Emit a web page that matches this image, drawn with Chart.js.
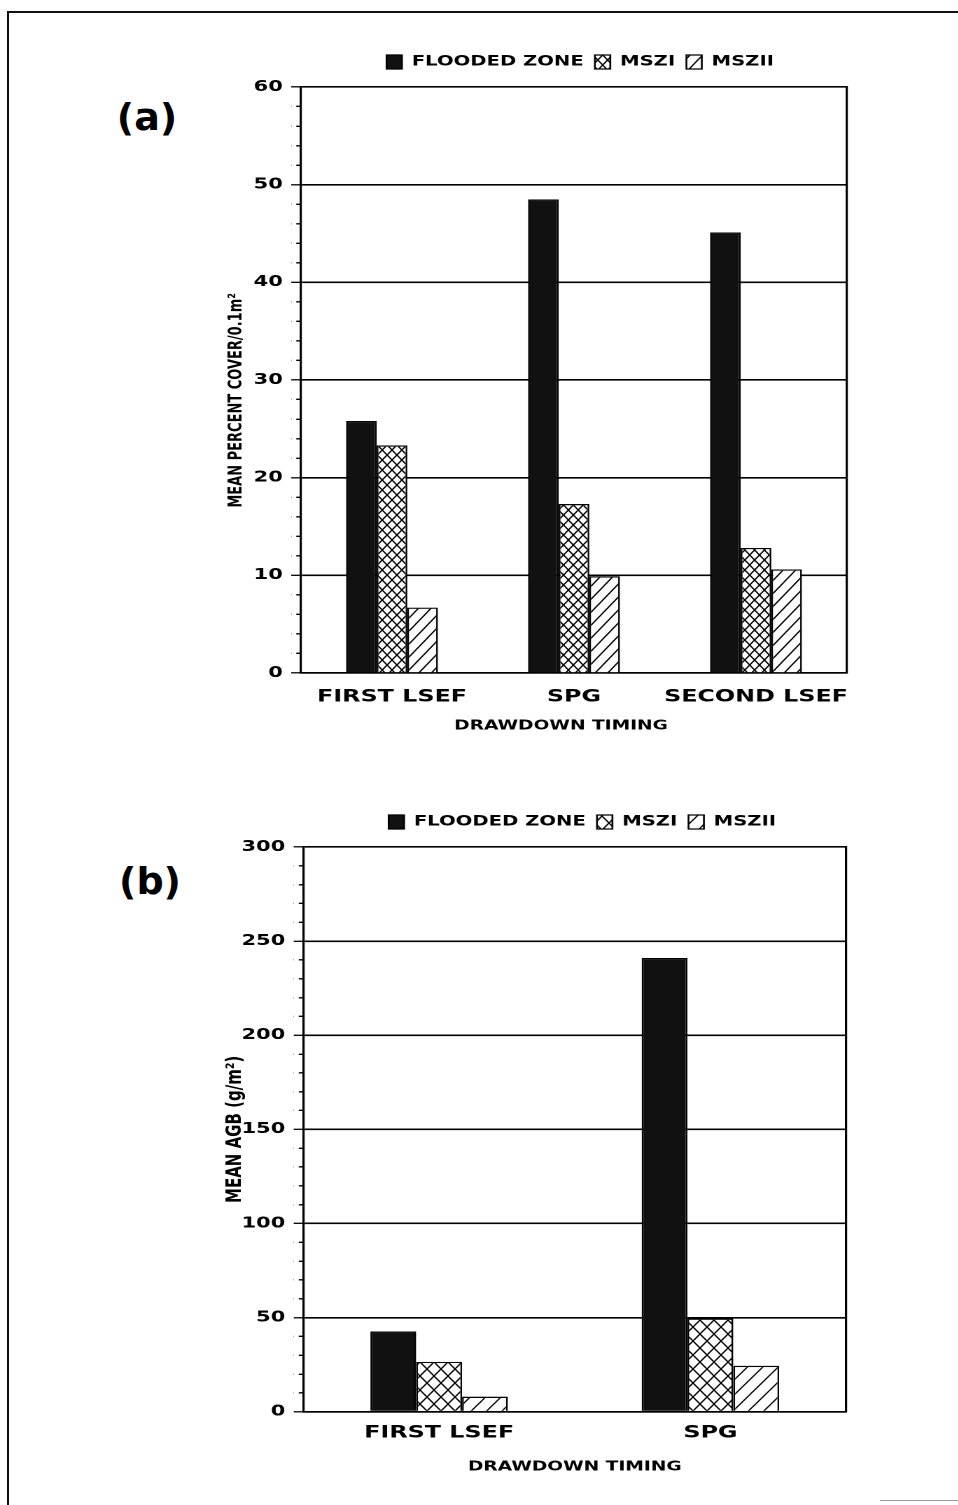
<!DOCTYPE html>
<html><head><meta charset="utf-8">
<script src="https://cdn.jsdelivr.net/npm/chart.js@4.4.1/dist/chart.umd.min.js"></script>
<style>
html,body{margin:0;padding:0;background:#fff;}
body{width:958px;height:1505px;overflow:hidden;position:relative;}
.frame{position:absolute;left:7px;top:11px;width:1200px;height:1600px;border-left:2px solid #111;border-top:2px solid #111;}
.seg{position:absolute;left:880px;top:1500px;width:100px;height:0;border-top:1px solid #999;}
.tag{position:absolute;font-family:'DejaVu Sans';font-weight:bold;font-size:38px;color:#000;line-height:1;transform:translate(-50%,-50%);white-space:nowrap;}
.wrap{position:absolute;left:0;transform:scaleX(1.4);transform-origin:0 0;}
</style></head><body>
<div class="frame"></div>
<div class="seg"></div>
<div class="tag" style="left:147px;top:117px">(a)</div>
<div class="tag" style="left:150px;top:881px">(b)</div>
<div class="wrap" style="top:0"><canvas id="ca" width="829" height="760"></canvas></div>
<div class="wrap" style="top:760px"><canvas id="cb" width="832" height="745"></canvas></div>
<script>
// ---- data ----
const categoriesA = ['FIRST LSEF', 'SPG', 'SECOND LSEF'];
const floodedA = [25.8, 48.5, 45.1];
const msz1A = [23.3, 17.3, 12.8];
const msz2A = [6.7, 9.9, 10.6];
const tickLabelsA = [0, 10, 20, 30, 40, 50, 60];

const categoriesB = ['FIRST LSEF', 'SPG'];
const floodedB = [42.6, 241];
const msz1B = [26.5, 49.5];
const msz2B = [8, 24.4];
const tickLabelsB = [0, 50, 100, 150, 200, 250, 300];

const seriesNames = ['FLOODED ZONE', 'MSZI', 'MSZII'];
const titleA = 'MEAN PERCENT COVER/0.1m\u00b2';
const titleB = 'MEAN AGB (g/m\u00b2)';
const xTitle = 'DRAWDOWN TIMING';

Chart.defaults.font.family = "'DejaVu Sans'";
Chart.defaults.font.weight = 'bold';
Chart.defaults.color = '#000';

function hatch(ctx, a, b, cross, lw) {
  const s = 2;
  const c = document.createElement('canvas');
  c.width = Math.round(a * s); c.height = Math.round(b * s);
  const g = c.getContext('2d');
  g.scale(c.width / a, c.height / b);
  g.fillStyle = '#fff'; g.fillRect(0, 0, a, b);
  g.strokeStyle = '#000'; g.lineWidth = lw; g.beginPath();
  for (let k = -1; k <= 1; k++) {
    g.moveTo(k * a - a, 2 * b); g.lineTo(k * a + 2 * a, -b);
    if (cross) { g.moveTo(k * a - a, -b); g.lineTo(k * a + 2 * a, 2 * b); }
  }
  g.stroke();
  const p = ctx.createPattern(c, 'repeat');
  p.setTransform(new DOMMatrix().scale(a / c.width, b / c.height));
  return p;
}

function makeChart(id, cfg) {
  const canvas = document.getElementById(id);
  const ctx = canvas.getContext('2d');
  const W = canvas.width;
  const isMajor = c => c.tick && cfg.tickLabels.includes(c.tick.value);
  const ds = (i, data, bg) => ({
    label: seriesNames[i], data, backgroundColor: bg, borderColor: '#000', borderWidth: 1.3,
    categoryPercentage: cfg.catPct, barPercentage: 1
  });
  return new Chart(ctx, {
    type: 'bar',
    data: {
      labels: cfg.categories,
      datasets: [
        ds(0, cfg.flooded, '#111'),
        ds(1, cfg.m1, hatch(ctx, cfg.crossA, cfg.crossB, true, 1.1)),
        ds(2, cfg.m2, hatch(ctx, cfg.diagA, cfg.diagB, false, 1.1))
      ]
    },
    options: {
      responsive: false, animation: false, devicePixelRatio: 2, events: [],
      layout: { padding: { top: 47, left: 0, right: 0, bottom: 0 } },
      plugins: {
        legend: {
          position: 'top', align: 'center',
          labels: { font: { size: 14 }, boxWidth: 11, boxHeight: 14, padding: 8, color: '#000' }
        },
        subtitle: { display: true, text: '', position: 'top', weight: 500, padding: 0, font: { size: 8, lineHeight: 1 } },
        tooltip: { enabled: false }
      },
      scales: {
        x: {
          afterFit: s => { s.height = cfg.xHeight; },
          grid: { display: false, drawTicks: false },
          border: { display: true, color: '#000', width: 1.6 },
          ticks: { font: { size: 17 }, padding: cfg.xPad, maxRotation: 0, minRotation: 0, autoSkip: false, color: '#000' },
          title: { display: true, text: cfg.xTitle, font: { size: 13.3 }, padding: { top: 0, bottom: cfg.xTitlePad }, color: '#000' }
        },
        y: {
          min: 0, max: cfg.max,
          afterFit: s => { s.width = cfg.yWidth; },
          ticks: {
            stepSize: cfg.step, autoSkip: false, padding: 6, font: { size: 15 }, color: '#000',
            callback: v => cfg.tickLabels.includes(v) ? String(v) : ''
          },
          grid: {
            color: c => isMajor(c) ? '#000' : 'rgba(0,0,0,0)',
            lineWidth: 1.6, tickLength: 7, tickColor: '#000', tickWidth: 1.3,
            tickBorderDash: c => isMajor(c) ? [] : [3.6, 3.4],
            tickBorderDashOffset: c => isMajor(c) ? 0 : 3.4
          },
          border: { display: true, color: '#000', width: 1.6 },
          title: { display: true, text: cfg.yTitle, font: { size: cfg.yTitleSize }, padding: { top: cfg.yTitlePad, bottom: 0 }, color: '#000' }
        },
        y2: {
          type: 'linear', position: 'right', display: true, min: 0, max: 1,
          afterFit: s => { s.width = W - cfg.plotRight; },
          grid: { drawOnChartArea: false, drawTicks: false },
          ticks: { display: false },
          border: { display: true, color: '#000', width: 1.6 }
        }
      }
    }
  });
}

makeChart('ca', {
  categories: categoriesA, flooded: floodedA, m1: msz1A, m2: msz2A, tickLabels: tickLabelsA,
  max: 60, step: 2, catPct: 0.505,
  yWidth: 215, plotRight: 605, xHeight: 87, xPad: 13.8, xTitlePad: 26,
  xTitle: xTitle + '    ', yTitle: titleA + '         ', yTitleSize: 13, yTitlePad: 161.5,
  crossA: 7, crossB: 10, diagA: 9, diagB: 13
});
makeChart('cb', {
  categories: categoriesB, flooded: floodedB, m1: msz1B, m2: msz2B, tickLabels: tickLabelsB,
  max: 300, step: 10, catPct: 0.507,
  yWidth: 216.8, plotRight: 604.3, xHeight: 93.3, xPad: 11.1, xTitlePad: 30,
  xTitle: xTitle, yTitle: titleB, yTitleSize: 15, yTitlePad: 158.9,
  crossA: 10, crossB: 14, diagA: 11, diagB: 15
});
</script>
</body></html>
